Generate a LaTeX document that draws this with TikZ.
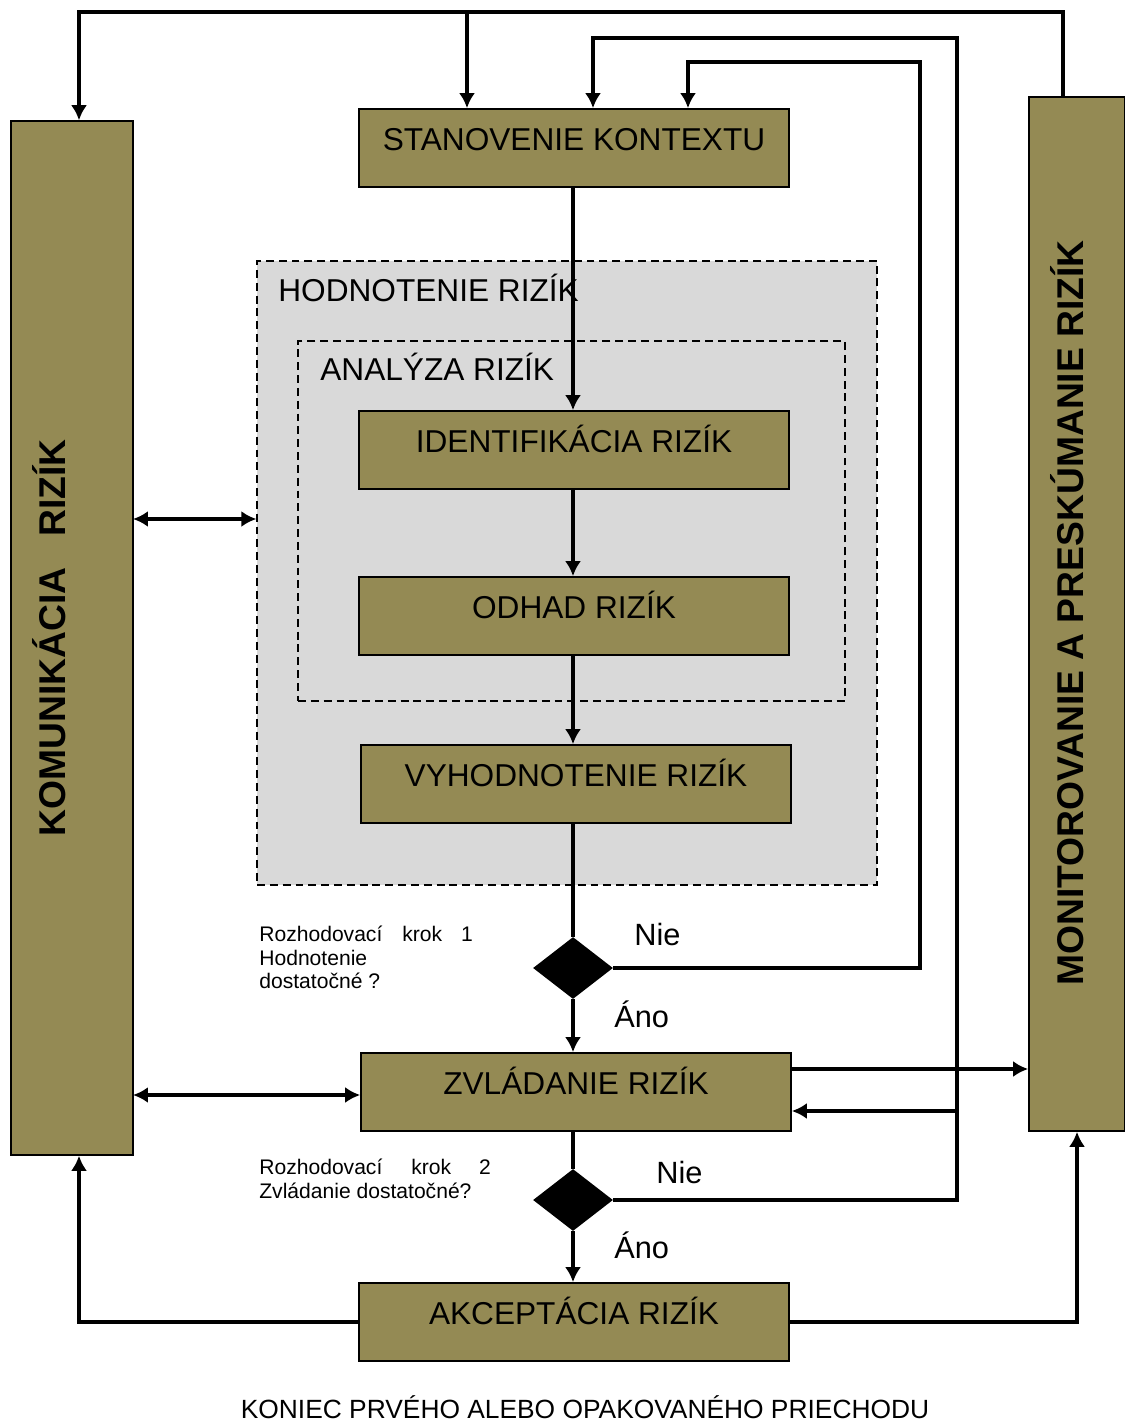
\documentclass[tikz,border=0pt]{standalone}
\usepackage{fontspec}
\setmainfont{Liberation Sans}
\usetikzlibrary{shapes.geometric,arrows.meta}
\definecolor{olive}{RGB}{148,138,84}
\definecolor{shade}{RGB}{217,217,217}

\begin{document}
\begin{tikzpicture}[
	x=0.02cm, y=-0.02cm,
	box/.style={draw,line width=1pt,fill=olive,minimum width=8.6cm,minimum height=1.56cm,
		text height=0.5cm,text depth=0.42cm,font=\fontsize{18}{21}\selectfont},
	side/.style={draw,line width=1pt,fill=olive,minimum width=#1,minimum height=20.68cm},
	region/.style={draw,dash pattern=on 4.5pt off 2.8pt,line width=0.8pt},
	decision/.style={diamond,fill=black,minimum width=1.6cm,minimum height=1.24cm,inner sep=0pt},
	conn/.style={line width=2.8pt,>={Latex[length=0.3cm,width=0.32cm]}},
	title/.style={anchor=base west,inner sep=0pt,font=\fontsize{18}{21}\selectfont},
	vtitle/.style={rotate=90,anchor=base,inner sep=0pt,font=\fontsize{21.2}{25}\selectfont\bfseries},
	answer/.style={anchor=base west,inner sep=0pt,font=\fontsize{17.5}{20}\selectfont},
	note/.style={anchor=north west,inner sep=0pt,align=left,font=\fontsize{12}{13.4}\selectfont}
]
\useasboundingbox (0,0) rectangle (1125,1423);

% assessment regions
\node[region,fill=shade,minimum width=12.4cm,minimum height=12.48cm] (hod) at (567,573) {};
\node[region,minimum width=10.94cm,minimum height=7.2cm] (ana) at (571.5,521) {};
\node[title] (hodtxt) at (278,301) {HODNOTENIE RIZÍK};
\node[title] (anatxt) at (320,380) {ANALÝZA RIZÍK};

% side columns
\node[side=2.44cm] (kom) at (72,638) {};
\node[side=1.92cm] (mon) at (1077,614) {};
\node[vtitle] (komtxt) at (65,638) {KOMUNIKÁCIA\ \ \ RIZÍK};
\node[vtitle] (montxt) at (1083,613) {MONITOROVANIE A PRESKÚMANIE RIZÍK};

% process steps
\node[box] (ctx) at (574,148) {STANOVENIE KONTEXTU};
\node[box] (ident) at (574,450) {IDENTIFIKÁCIA RIZÍK};
\node[box] (odh) at (574,616) {ODHAD RIZÍK};
\node[box] (vyh) at (576,784) {VYHODNOTENIE RIZÍK};
\node[box] (zvl) at (576,1092) {ZVLÁDANIE RIZÍK};
\node[box] (akc) at (574,1322) {AKCEPTÁCIA RIZÍK};

% decisions
\node[decision] (dec1) at (573,968) {};
\node[decision] (dec2) at (573,1200) {};
\node[note] (note1) at (259,926) {Rozhodovací\hspace{0.4cm}krok\hspace{0.38cm}1\\Hodnotenie\\dostatočné ?};
\node[note] (note2) at (259,1159) {Rozhodovací\hspace{0.58cm}krok\hspace{0.56cm}2\\Zvládanie dostatočné?};
\node[answer] (no1) at (634,945) {Nie};
\node[answer] (yes1) at (614,1027) {Áno};
\node[answer] (no2) at (656,1183) {Nie};
\node[answer] (yes2) at (614,1258) {Áno};

\node[anchor=base,inner sep=0pt,font=\fontsize{15}{18}\selectfont] (endtxt) at (585,1418) {KONIEC PRVÉHO ALEBO OPAKOVANÉHO PRIECHODU};

% bends of the feedback lines
\coordinate (topR) at (1063,12);
\coordinate (topM) at (467,12);
\coordinate (topL) at (79,12);
\coordinate (loopBr) at (957,38);
\coordinate (loopB) at (593,38);
\coordinate (loopAr) at (920,62);
\coordinate (loopA) at (688,62);
\coordinate (back) at (957,1111);
\coordinate (toMon) at (791,1069);
\coordinate (toHod) at (133,519);
\coordinate (toZvl) at (133,1095);

\draw[conn,->] (topR |- mon.north) -- (topR) -- (topL) -- (topL |- kom.north);
\draw[conn,->] (topM) -- (topM |- ctx.north);
\draw[conn,->] (dec2.east) -| (loopBr) -- (loopB) -- (loopB |- ctx.north);
\draw[conn,->] (back) -- (back -| zvl.east);
\draw[conn,->] (dec1.east) -| (loopAr) -- (loopA) -- (loopA |- ctx.north);

\draw[conn,->] (ctx.south -| dec1.north) -- (dec1.north |- ident.north);
\draw[conn,->] (ident.south -| dec1.north) -- (dec1.north |- odh.north);
\draw[conn,->] (odh.south -| dec1.north) -- (dec1.north |- vyh.north);
\draw[conn] (vyh.south -| dec1.north) -- (dec1.north);
\draw[conn,->] (dec1.south) -- (dec1.south |- zvl.north);
\draw[conn] (zvl.south -| dec2.north) -- (dec2.north);
\draw[conn,->] (dec2.south) -- (dec2.south |- akc.north);

\draw[conn,->] (toMon) -- (toMon -| mon.west);
\draw[conn,<->] (toHod) -- (toHod -| hod.west);
\draw[conn,<->] (toZvl) -- (toZvl -| zvl.west);
\draw[conn,->] (akc.west) -| (topL |- kom.south);
\draw[conn,->] (akc.east) -| (mon.south);
\end{tikzpicture}
\end{document}
